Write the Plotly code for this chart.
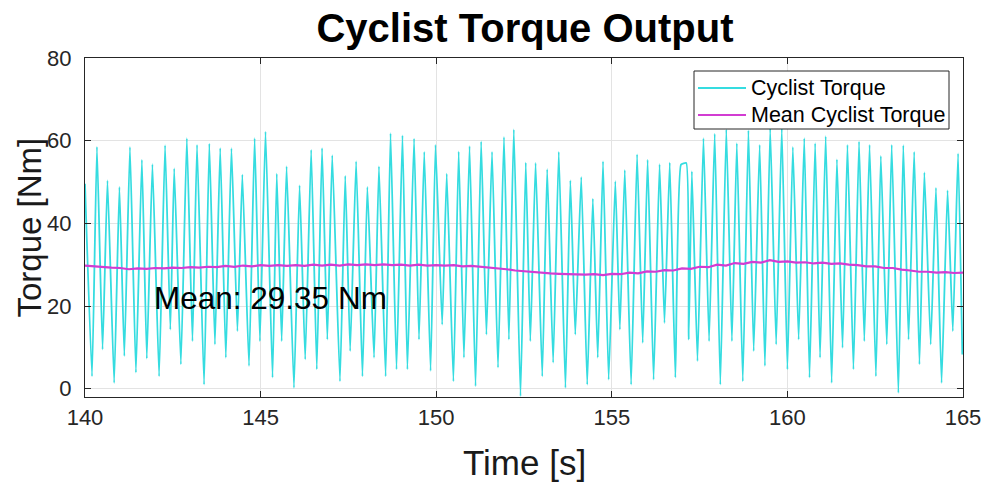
import plotly.graph_objects as go

# Pedal torque: turning points of the measured signal (time in s, torque in Nm)
torque_time = [
    140.00, 140.20, 140.34, 140.50, 140.64, 140.83, 140.98, 141.12, 141.28, 141.45,
    141.62, 141.76, 141.92, 142.11, 142.28, 142.43, 142.54, 142.73, 142.90, 143.06,
    143.19, 143.39, 143.54, 143.70, 143.85, 144.01, 144.17, 144.34, 144.48, 144.67,
    144.83, 144.98, 145.14, 145.34, 145.46, 145.60, 145.74, 145.95, 146.11, 146.27,
    146.44, 146.60, 146.75, 146.90, 147.04, 147.26, 147.41, 147.55, 147.72, 147.90,
    148.04, 148.23, 148.37, 148.56, 148.70, 148.87, 149.04, 149.18, 149.37, 149.51,
    149.66, 149.84, 149.98, 150.17, 150.30, 150.49, 150.64, 150.79, 150.95, 151.12,
    151.28, 151.43, 151.59, 151.76, 151.93, 152.07, 152.21, 152.40, 152.55, 152.68,
    152.83, 153.02, 153.16, 153.33, 153.49, 153.68, 153.82, 153.96, 154.13, 154.30,
    154.46, 154.60, 154.75, 154.91, 155.10, 155.23, 155.37, 155.55, 155.72, 155.88,
    156.02, 156.19, 156.36, 156.50, 156.65, 156.81, 156.97, 157.12, 157.19, 157.28,
    157.44, 157.61, 157.77, 157.93, 158.09, 158.26, 158.42, 158.56, 158.73, 158.89,
    159.04, 159.21, 159.36, 159.51, 159.68, 159.84, 160.00, 160.155, 160.32, 160.48,
    160.63, 160.79, 160.93, 161.09, 161.26, 161.41, 161.57, 161.71, 161.88, 162.04,
    162.19, 162.34, 162.52, 162.66, 162.83, 162.97, 163.16, 163.30, 163.45, 163.61,
    163.76, 163.90, 164.08, 164.23, 164.39, 164.56, 164.71, 164.86, 164.98,
]
torque_value = [
    49.6, 3.0, 58.5, 9.5, 50.4, 1.4, 48.8, 7.9, 58.5, 3.9,
    55.4, 7.3, 54.3, 3.0, 58.9, 14.3, 53.3, 5.9, 60.6, 11.5,
    59.0, 1.0, 59.3, 10.7, 58.2, 7.5, 58.2, 13.9, 51.8, 5.5,
    60.6, 11.5, 62.2, 2.7, 52.0, 11.5, 53.8, 0.2, 49.2, 7.1,
    57.8, 4.7, 58.2, 11.9, 56.5, 1.8, 51.5, 9.1, 55.0, 3.0,
    48.8, 7.5, 53.8, 3.0, 61.8, 4.7, 61.3, 4.7, 60.5, 11.9,
    57.3, 4.3, 59.0, 15.5, 52.0, 1.8, 57.4, 7.5, 58.7, 0.6,
    59.8, 13.1, 57.3, 5.1, 60.9, 11.9, 62.7, -1.8, 54.7, 11.5,
    54.6, 3.0, 53.1, 6.3, 57.3, 0.2, 50.4, 13.1, 51.2, 1.0,
    46.0, 7.5, 55.0, 2.2, 50.2, 14.3, 52.9, 1.0, 56.7, 11.1,
    55.4, 2.2, 54.3, 15.9, 54.7, 2.7, 54.2, 54.6, 11.9, 52.6,
    6.7, 60.6, 11.5, 61.7, 1.0, 62.7, 11.5, 59.4, 1.8, 62.5,
    9.1, 59.0, 5.5, 63.0, 10.7, 63.0, 4.7, 58.5, 11.9, 60.6,
    2.7, 59.4, 7.5, 61.1, 1.4, 55.5, 9.9, 59.0, 4.7, 59.8,
    11.5, 59.0, 3.0, 56.3, 10.7, 59.0, -1.0, 58.9, 11.9, 57.3,
    5.9, 52.3, 10.7, 48.6, 1.4, 48.0, 13.9, 56.9, 8.3,
]

# Running mean of the torque, sampled every 0.25 s from 140 s to 165 s
mean_time = [140 + 0.25 * k for k in range(101)]
mean_value = [
    29.8, 29.6, 29.5, 29.3, 29.2, 28.9, 29.1, 29.0, 29.2, 29.1,
    29.3, 29.2, 29.4, 29.3, 29.5, 29.4, 29.7, 29.5, 29.8, 29.6,
    29.9, 29.7, 29.9, 29.7, 29.9, 29.7, 30.0, 29.8, 30.0, 29.8,
    30.1, 29.9, 30.1, 29.9, 30.1, 29.9, 30.0, 29.8, 30.0, 29.8,
    29.9, 29.8, 29.9, 29.6, 29.7, 29.5, 29.4, 29.1, 28.9, 28.6,
    28.4, 28.2, 28.1, 27.9, 27.8, 27.7, 27.7, 27.6, 27.7, 27.5,
    27.8, 27.7, 28.1, 27.9, 28.4, 28.3, 28.7, 28.6, 29.1, 29.0,
    29.5, 29.4, 30.0, 29.8, 30.4, 30.2, 30.7, 30.5, 31.1, 30.7,
    30.8, 30.5, 30.6, 30.3, 30.5, 30.2, 30.3, 30.0, 29.9, 29.6,
    29.6, 29.2, 29.2, 28.8, 28.6, 28.3, 28.3, 28.1, 28.2, 28.0,
    28.1,
]

overall_mean = 29.35
x_ticks = [140, 145, 150, 155, 160, 165]
y_ticks = [0, 20, 40, 60, 80]
series_names = ["Cyclist Torque", "Mean Cyclist Torque"]

FONT = "Liberation Sans, Arial, Helvetica, sans-serif"
AXIS_COLOR = "#262626"
GRID_COLOR = "#e3e3e3"
CYAN = "#35dce0"
MAGENTA = "#d23cd2"

# Figure geometry (pixels)
W, H = 987, 483
ML, MR, MT, MB = 85, 24, 58, 86
PW, PH = W - ML - MR, H - MT - MB


def px_x(x):
    return (x - ML) / PW


def px_y(y):
    return (H - MB - y) / PH


fig = go.Figure()
fig.add_trace(go.Scatter(
    x=torque_time, y=torque_value, mode="lines", name=series_names[0],
    line=dict(color=CYAN, width=1.8, shape="spline", smoothing=0.4),
    showlegend=False,
))
fig.add_trace(go.Scatter(
    x=mean_time, y=mean_value, mode="lines", name=series_names[1],
    line=dict(color=MAGENTA, width=2.2),
    showlegend=False,
))

axis_common = dict(
    showline=True, linecolor=AXIS_COLOR, linewidth=1, mirror="ticks",
    ticks="inside", ticklen=6, tickcolor=AXIS_COLOR, tickwidth=1,
    showgrid=True, gridcolor=GRID_COLOR, gridwidth=1, zeroline=False,
    tickfont=dict(family=FONT, size=22, color="#262626"),
    automargin=False,
)

fig.update_layout(
    width=W, height=H,
    margin=dict(l=ML, r=MR, t=MT, b=MB, autoexpand=False),
    paper_bgcolor="white", plot_bgcolor="white",
    font=dict(family=FONT, color="#000000"),
    title=dict(
        text="<b>Cyclist Torque Output</b>", x=525 / W, xanchor="center",
        y=1 - 28 / H, yanchor="middle", yref="container",
        font=dict(family=FONT, size=40, color="#000000"),
    ),
    xaxis=dict(range=[140, 165], tickvals=x_ticks, ticklabelstandoff=1, **axis_common),
    yaxis=dict(range=[-2, 80], tickvals=y_ticks, ticklabelstandoff=8, **axis_common),
    showlegend=False,
)

# Legend box in the upper-right corner of the axes
fig.add_shape(
    type="rect", xref="paper", yref="paper",
    x0=px_x(694), x1=px_x(949), y0=px_y(129), y1=px_y(71),
    line=dict(color=AXIS_COLOR, width=1), fillcolor="white", layer="above",
)
for name, color, width, row_y in [
    (series_names[0], CYAN, 1.8, 88),
    (series_names[1], MAGENTA, 2.2, 115),
]:
    fig.add_shape(
        type="line", xref="paper", yref="paper",
        x0=px_x(698), x1=px_x(746), y0=px_y(row_y), y1=px_y(row_y),
        line=dict(color=color, width=width), layer="above",
    )
    fig.add_annotation(
        text=name, xref="paper", yref="paper", x=px_x(749), y=px_y(row_y),
        xanchor="left", yanchor="middle", showarrow=False,
        font=dict(family=FONT, size=21.5, color="#000000"),
    )

# Axis titles placed relative to the plotting area
fig.add_annotation(
    text="Time [s]", xref="paper", yref="paper", x=0.5, y=0,
    yshift=-65, yanchor="middle", showarrow=False,
    font=dict(family=FONT, size=35, color="#1a1a1a"),
)
fig.add_annotation(
    text="Torque [Nm]", xref="paper", yref="paper", x=0, y=0.5,
    xshift=-56, xanchor="center", yanchor="middle", textangle=-90, showarrow=False,
    font=dict(family=FONT, size=33, color="#1a1a1a"),
)

# Overall mean label inside the axes
fig.add_annotation(
    text=f"Mean: {overall_mean:.2f} Nm", x=141.92, y=22, xref="x", yref="y",
    xanchor="left", yanchor="middle", showarrow=False,
    font=dict(family=FONT, size=31.5, color="#000000"),
)

fig.write_html("out.html")
